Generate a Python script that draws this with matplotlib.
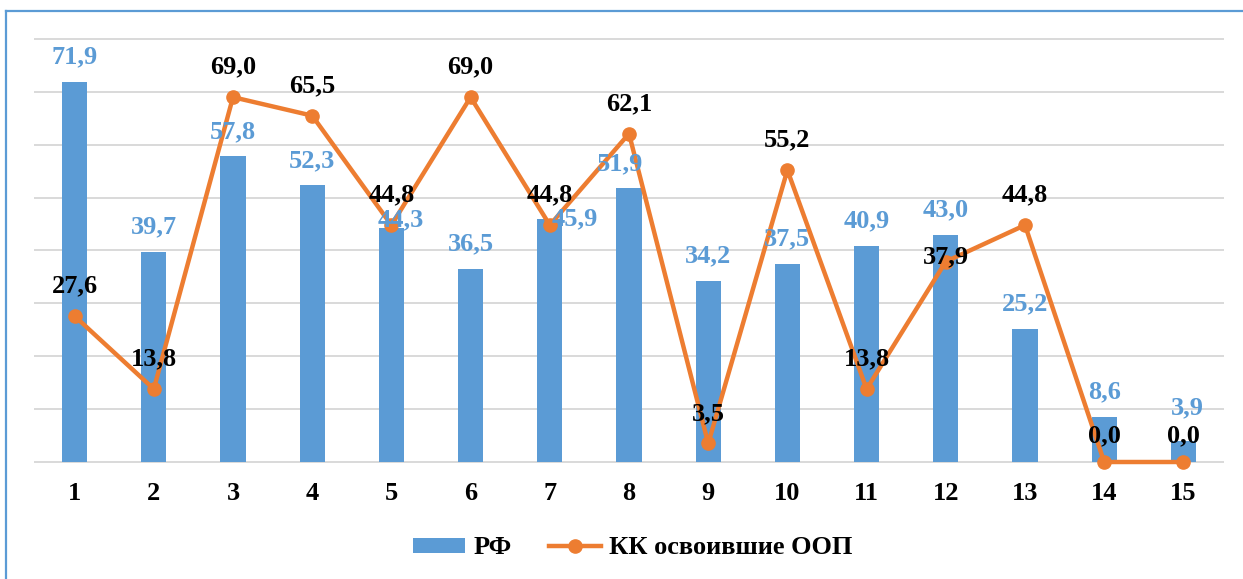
import matplotlib
matplotlib.use("Agg")
import matplotlib.pyplot as plt
from matplotlib.lines import Line2D
from matplotlib.patches import Patch

categories = [str(i) for i in range(1, 16)]
rf_values = [71.9, 39.7, 57.8, 52.3, 44.3, 36.5, 45.9, 51.9, 34.2, 37.5, 40.9, 43.0, 25.2, 8.6, 3.9]
kk_values = [27.6, 13.8, 69.0, 65.5, 44.8, 69.0, 44.8, 62.1, 3.5, 55.2, 13.8, 37.9, 44.8, 0.0, 0.0]
series_names = ["РФ", "КК освоившие ООП"]

BLUE = "#5B9BD5"
ORANGE = "#ED7D31"
FONT = "Liberation Serif"
FS = 19

def fmt(v):
    return f"{v:.1f}".replace(".", ",")

W, H = 1243, 579
fig = plt.figure(figsize=(W / 100, H / 100), dpi=100)

# plot area in pixel terms
left, right, top, bottom = 35, 1223, 39, 462
ax = fig.add_axes([left / W, 1 - bottom / H, (right - left) / W, (bottom - top) / H])

x = list(range(len(categories)))
ax.bar(x, rf_values, width=0.32, color=BLUE, zorder=2)
ax.plot(x, kk_values, color=ORANGE, lw=3.2, marker="o", markersize=9.5,
        solid_capstyle="round", zorder=3, clip_on=False)

ax.set_xlim(-0.5, len(categories) - 0.5)
ax.set_ylim(0, 80)
ax.set_yticks(range(0, 81, 10))
ax.yaxis.grid(True, color="#D9D9D9", lw=1.4, zorder=0)
for gl in ax.get_ygridlines():
    gl.set_clip_on(False)
ax.set_axisbelow(True)
ax.tick_params(axis="y", left=False, labelleft=False)
ax.tick_params(axis="x", bottom=False, pad=11)
ax.set_xticks(x)
ax.set_xticklabels(categories, fontfamily=FONT, fontweight="bold", fontsize=FS)
for s in ax.spines.values():
    s.set_visible(False)

# value labels (pixel offsets from the mark top)
bar_shift = {4: (9, 8), 6: (25, 0), 7: (-9, 24), 14: (4, 34)}
for i, v in enumerate(rf_values):
    dx, dy = bar_shift.get(i, (0, 25))
    ax.annotate(fmt(v), (i, v), xytext=(dx * 0.72, dy * 0.72), textcoords="offset points",
                ha="center", va="center", color=BLUE, fontfamily=FONT,
                fontweight="bold", fontsize=FS, zorder=4)

line_shift = {11: (0, 5), 13: (0, 26), 14: (0, 26)}
for i, v in enumerate(kk_values):
    dx, dy = line_shift.get(i, (0, 30))
    ax.annotate(fmt(v), (i, v), xytext=(dx * 0.72, dy * 0.72), textcoords="offset points",
                ha="center", va="center", color="black", fontfamily=FONT,
                fontweight="bold", fontsize=FS, zorder=5)

handles = [Patch(facecolor=BLUE, edgecolor="none"),
           Line2D([0], [0], color=ORANGE, lw=3.2, marker="o", markersize=9.5)]
fig.legend(handles, series_names, loc="center", bbox_to_anchor=(0.509, 1 - 548 / H),
           ncol=2, frameon=False, handlelength=2.0, handleheight=0.5,
           columnspacing=1.4, handletextpad=0.3,
           prop={"family": FONT, "weight": "bold", "size": FS})

# frame around the chart (top and left edges visible)
fig.add_artist(Line2D([6 / W, 6 / W], [0, 1 - 11 / H], color=BLUE, lw=1.6,
                      transform=fig.transFigure))
fig.add_artist(Line2D([6 / W, 1], [1 - 11 / H, 1 - 11 / H], color=BLUE, lw=1.6,
                      transform=fig.transFigure))

fig.savefig("out.png", dpi=100, facecolor="white")
